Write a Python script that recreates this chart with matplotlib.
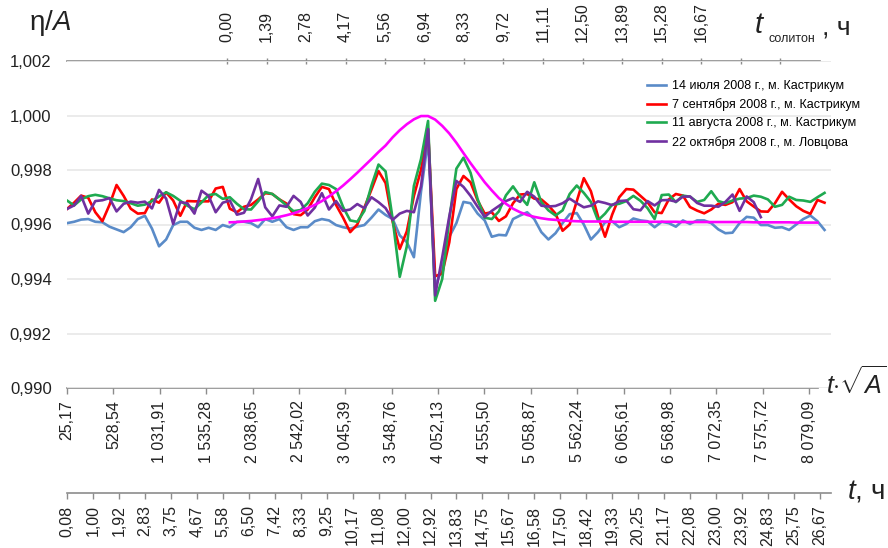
import numpy as np
import matplotlib
matplotlib.use("Agg")
import matplotlib.pyplot as plt

plt.rcParams['font.family'] = ['Liberation Sans', 'DejaVu Sans']
plt.rcParams['mathtext.fontset'] = 'custom'
plt.rcParams['mathtext.rm'] = 'Liberation Sans'
plt.rcParams['mathtext.it'] = 'Liberation Sans:italic'

# ── DATA ──────────────────────────────────────────────────────────────────────
# samples every 15 min starting at t = 0.08 h
T0, DT = 0.08, 0.25

jul14 = [0.99605, 0.9961, 0.99618, 0.9962, 0.9961, 0.99608, 0.99592, 0.99582, 0.99572, 0.9959,
         0.9962, 0.99632, 0.99585, 0.9952, 0.99545, 0.99598, 0.9961, 0.9961, 0.99588, 0.9958,
         0.99588, 0.9958, 0.99598, 0.9959, 0.9961, 0.9961, 0.99605, 0.9959, 0.9962, 0.9961,
         0.9962, 0.9959, 0.9958, 0.9959, 0.9959, 0.99612, 0.9962, 0.99615, 0.99598, 0.9959,
         0.99585, 0.99592, 0.99598, 0.99625, 0.99655, 0.99635, 0.9962, 0.9956, 0.99535, 0.9948,
         0.9972, 0.9991, 0.9937, 0.9944, 0.99555, 0.99605, 0.99683, 0.99678, 0.9964, 0.99615,
         0.99555, 0.99562, 0.9956, 0.9962, 0.99633, 0.99645, 0.9962, 0.99572, 0.99545, 0.99568,
         0.99605, 0.99638, 0.99642, 0.996, 0.99545, 0.99572, 0.99608, 0.99612, 0.9959, 0.99602,
         0.99622, 0.99615, 0.99612, 0.9959, 0.9961, 0.99605, 0.99592, 0.99615, 0.99602, 0.99615,
         0.99615, 0.99605, 0.99582, 0.99568, 0.9957, 0.99605, 0.99628, 0.99625, 0.99598, 0.99598,
         0.99588, 0.9959, 0.9958, 0.996, 0.9962, 0.99633, 0.99612, 0.9958]

sep07 = [0.99657, 0.9968, 0.99706, 0.99698, 0.99645, 0.99612, 0.99672, 0.99745, 0.99705, 0.99658,
         0.9964, 0.99642, 0.99692, 0.9968, 0.99718, 0.99688, 0.99632, 0.99686, 0.99685, 0.99685,
         0.99685, 0.99732, 0.99738, 0.99658, 0.99645, 0.99665, 0.99672, 0.99692, 0.99715, 0.99712,
         0.99692, 0.99677, 0.99638, 0.99634, 0.99655, 0.997, 0.99738, 0.9973, 0.99672, 0.99625,
         0.99572, 0.996, 0.99662, 0.99728, 0.99796, 0.99752, 0.9961, 0.9951, 0.99575, 0.99705,
         0.998, 0.9995, 0.9941, 0.9942, 0.99535, 0.9973, 0.99778, 0.99755, 0.99688, 0.9964,
         0.99645, 0.99613, 0.9963, 0.99678, 0.9971, 0.99712, 0.99695, 0.99692, 0.9967, 0.9964,
         0.99577, 0.996, 0.99685, 0.9977, 0.99722, 0.9963, 0.99555, 0.99636, 0.997, 0.9973,
         0.99728, 0.99705, 0.99682, 0.99645, 0.99642, 0.99692, 0.99712, 0.99706, 0.99664, 0.99651,
         0.99641, 0.99655, 0.99676, 0.99672, 0.99682, 0.9973, 0.99685, 0.99666, 0.99648, 0.99647,
         0.99678, 0.9972, 0.99692, 0.99667, 0.9965, 0.99639, 0.9969, 0.9968]

aug11 = [0.99688, 0.9967, 0.99692, 0.99704, 0.99709, 0.99704, 0.99696, 0.99689, 0.99686, 0.99678,
         0.99669, 0.99673, 0.99686, 0.99703, 0.99718, 0.99705, 0.99687, 0.99669, 0.99656, 0.99681,
         0.99708, 0.99712, 0.99694, 0.997, 0.99676, 0.99656, 0.99655, 0.99685, 0.99719, 0.99712,
         0.99692, 0.9967, 0.99649, 0.99653, 0.99678, 0.9972, 0.9975, 0.99745, 0.9973, 0.99664,
         0.99615, 0.9961, 0.9965, 0.99742, 0.9982, 0.99795, 0.9962, 0.99408, 0.9952, 0.99742,
         0.9984, 0.9998, 0.9932, 0.9940, 0.9962, 0.99805, 0.99845, 0.9979, 0.99693, 0.99625,
         0.9962, 0.99648, 0.99707, 0.9974, 0.99703, 0.99672, 0.99755, 0.99682, 0.99652, 0.99633,
         0.99652, 0.99712, 0.99743, 0.99716, 0.99683, 0.99615, 0.9964, 0.99673, 0.99676, 0.99686,
         0.99705, 0.99687, 0.9966, 0.9962, 0.99708, 0.9971, 0.99682, 0.99706, 0.99702, 0.99683,
         0.9969, 0.99722, 0.99686, 0.99678, 0.99688, 0.99695, 0.99697, 0.99706, 0.99702, 0.99692,
         0.99665, 0.99672, 0.99702, 0.9969, 0.99688, 0.99683, 0.997, 0.99716]

oct22 = [0.99657, 0.9967, 0.99705, 0.9964, 0.99686, 0.99689, 0.99697, 0.99648, 0.99676, 0.99684,
         0.9968, 0.99684, 0.99659, 0.99727, 0.99695, 0.99602, 0.99682, 0.99678, 0.9964, 0.99724,
         0.99705, 0.99645, 0.9968, 0.99688, 0.99636, 0.99643, 0.99693, 0.99767, 0.99663, 0.9963,
         0.9967, 0.99665, 0.99705, 0.99683, 0.99633, 0.99662, 0.99715, 0.99655, 0.99686, 0.9965,
         0.99655, 0.99675, 0.9966, 0.997, 0.99682, 0.9966, 0.99617, 0.9964, 0.9965, 0.99645,
         0.9974, 0.9995, 0.9934, 0.9948, 0.9963, 0.9976, 0.99738, 0.99705, 0.99665, 0.99628,
         0.9965, 0.99668, 0.99686, 0.99697, 0.99683, 0.9972, 0.99702, 0.99669, 0.99666, 0.99668,
         0.99678, 0.99695, 0.99678, 0.99663, 0.99669, 0.99685, 0.99679, 0.99671, 0.99686, 0.99688,
         0.99656, 0.99652, 0.99686, 0.9967, 0.99689, 0.9969, 0.99684, 0.99702, 0.99703, 0.99679,
         0.99669, 0.99669, 0.99665, 0.99683, 0.9971, 0.9965, 0.99703, 0.99682, 0.99627]

# soliton profile, starts at sample 23
SOLITON_START = 23
soliton = [0.99608, 0.99609, 0.99611, 0.99613, 0.99616, 0.99619, 0.99623, 0.99628, 0.99634, 0.99641,
           0.9965, 0.9966, 0.99672, 0.99686, 0.99703, 0.99722, 0.99743, 0.99766, 0.9979, 0.99815,
           0.9984, 0.99866, 0.9989, 0.9992, 0.99946, 0.99968, 0.99986, 0.99998,
           0.99998, 0.99985, 0.99962, 0.99934, 0.999, 0.99862, 0.99825, 0.9979, 0.99755, 0.99725,
           0.99697, 0.99676, 0.99658, 0.99645, 0.99635, 0.99628, 0.99623, 0.99619, 0.99617, 0.99615,
           0.99613, 0.99612,
           0.99611, 0.99611, 0.99611, 0.99611, 0.9961, 0.9961, 0.9961, 0.9961, 0.9961, 0.9961,
           0.9961, 0.9961, 0.9961, 0.9961, 0.99609, 0.99609, 0.99609, 0.99609, 0.99609, 0.99609,
           0.99609, 0.99609, 0.99609, 0.99609, 0.99608, 0.99608, 0.99608, 0.99608, 0.99608, 0.99608,
           0.99607, 0.99607, 0.99607, 0.99607]

series_labels = ["14 июля 2008 г., м. Кастрикум",
                 "7 сентября 2008 г., м. Кастрикум",
                 "11 августа 2008 г., м. Кастрикум",
                 "22 октября 2008 г., м. Ловцова"]
series_colors = ["#5a8bc8", "#ff0000", "#1faa50", "#7030a0"]

y_labels = ["0,990", "0,992", "0,994", "0,996", "0,998", "1,000", "1,002"]
sqrtA_labels = ["25,17", "528,54", "1 031,91", "1 535,28", "2 038,65", "2 542,02",
                "3 045,39", "3 548,76", "4 052,13", "4 555,50", "5 058,87", "5 562,24",
                "6 065,61", "6 568,98", "7 072,35", "7 575,72", "8 079,09"]
t_labels = ["0,08", "1,00", "1,92", "2,83", "3,75", "4,67", "5,58", "6,50", "7,42", "8,33",
            "9,25", "10,17", "11,08", "12,00", "12,92", "13,83", "14,75", "15,67", "16,58",
            "17,50", "18,42", "19,33", "20,25", "21,17", "22,08", "23,00", "23,92", "24,83",
            "25,75", "26,67"]
sol_labels = ["0,00", "1,39", "2,78", "4,17", "5,56", "6,94", "8,33", "9,72", "11,11",
              "12,50", "13,89", "15,28", "16,67", "", ""]
sol_ticks = [0.0, 1.389, 2.778, 4.167, 5.556, 6.944, 8.333, 9.722, 11.111,
             12.5, 13.889, 15.278, 16.667, 18.056, 19.444]


def num(s):
    return float(s.replace(" ", "").replace(",", "."))


# ── LAYOUT ────────────────────────────────────────────────────────────────────
W, H = 888, 548
AX_L, AX_R, AX_T, AX_B = 67, 831, 61, 388
H_PER_PX = 0.035312
XMIN = T0
XMAX = T0 + (AX_R - AX_L) * H_PER_PX

# linear links between the time axis and the two other scales
SQ0, SQ_SLOPE = 25.17, 307.38
SOL_H0, SOL_SLOPE = 5.730, 0.99575

GRID_C = "#e9e9e9"
SPINE_C = "#8c8c8c"
TXT_C = "#222222"

fig = plt.figure(figsize=(W / 100, H / 100), dpi=100)
ax = fig.add_axes([AX_L / W, 1 - AX_B / H, (AX_R - AX_L) / W, (AX_B - AX_T) / H])

for vals, lab, col in zip([jul14, sep07, aug11, oct22], series_labels, series_colors):
    t = T0 + DT * np.arange(len(vals))
    ax.plot(t, vals, color=col, lw=1.9, label=lab, solid_joinstyle="round")

t_sol = T0 + DT * (SOLITON_START + np.arange(len(soliton)))
ax.plot(t_sol, soliton, color="#ff00ff", lw=1.9)

ax.set_xlim(XMIN, XMAX)
ax.set_ylim(0.990, 1.002)
ax.set_yticks([num(s) for s in y_labels])
ax.set_yticklabels(y_labels)
ax.tick_params(axis="y", length=0, pad=11, labelsize=12, labelcolor=TXT_C)
ax.set_xticks([])
ax.yaxis.grid(True, color=GRID_C, lw=1.3)
ax.set_axisbelow(True)
for s in ax.spines.values():
    s.set_visible(False)

# bottom scale: t*sqrt(A)
sec_sq = ax.secondary_xaxis(
    "bottom",
    functions=(lambda h: SQ0 + (h - T0) * SQ_SLOPE, lambda s: T0 + (s - SQ0) / SQ_SLOPE))
sec_sq.set_xticks([num(s) for s in sqrtA_labels])
sec_sq.set_xticklabels(sqrtA_labels, rotation=90)
sec_sq.tick_params(direction="out", length=4, width=1, color=SPINE_C, pad=5,
                   labelsize=11.5, labelcolor=TXT_C)
sec_sq.spines["bottom"].set_color(SPINE_C)
sec_sq.spines["bottom"].set_linewidth(1.2)
sec_sq.spines["bottom"].set_bounds(SQ0, SQ0 + 751 * H_PER_PX * SQ_SLOPE)

# top scale: soliton time
sec_sol = ax.secondary_xaxis(
    "top",
    functions=(lambda h: (h - SOL_H0) * SOL_SLOPE, lambda s: SOL_H0 + s / SOL_SLOPE))
sec_sol.set_xticks(sol_ticks)
sec_sol.set_xticklabels(sol_labels, rotation=90)
sec_sol.tick_params(direction="inout", length=4, width=1, color=SPINE_C, pad=12,
                    labelsize=11.5, labelcolor=TXT_C)
sec_sol.spines["top"].set_color(SPINE_C)
sec_sol.spines["top"].set_linewidth(1.2)
sec_sol.spines["top"].set_bounds((XMIN - SOL_H0) * SOL_SLOPE,
                                 (T0 + 753 * H_PER_PX - SOL_H0) * SOL_SLOPE)

# lower scale: time in hours
sec_t = ax.secondary_xaxis(-(493 - AX_B) / (AX_B - AX_T))
sec_t.set_xticks([num(s) for s in t_labels])
sec_t.set_xticklabels(t_labels, rotation=90)
sec_t.tick_params(direction="out", length=4, width=1, color=SPINE_C, pad=5,
                  labelsize=11.5, labelcolor=TXT_C)
sec_t.spines["bottom"].set_color(SPINE_C)
sec_t.spines["bottom"].set_linewidth(1.2)

# axis captions
fig.text(50 / W, 1 - 23 / H, r"η/$\mathit{A}$", fontsize=20, color=TXT_C,
         ha="center", va="center")
fig.text(856 / W, 1 - 383 / H, r"$t{\cdot}\sqrt{A}$", fontsize=18, color=TXT_C,
         ha="center", va="center")
fig.text(866 / W, 1 - 492 / H, r"$t$, ч", fontsize=20, color=TXT_C,
         ha="center", va="center")
fig.text(760 / W, 1 - 25 / H, r"$t$", fontsize=21, color=TXT_C, ha="center", va="center")
fig.text(792 / W, 1 - 39 / H, "солитон", fontsize=9, color=TXT_C, ha="center", va="center")
fig.text(836 / W, 1 - 28 / H, ", ч", fontsize=19, color=TXT_C, ha="center", va="center")

ax.legend(loc="upper left", bbox_to_anchor=(647 / W, 1 - 80 / H),
          bbox_transform=fig.transFigure, frameon=False, fontsize=9,
          handlelength=1.55, handletextpad=0.45, labelspacing=0.5,
          borderpad=0, borderaxespad=0)

fig.savefig("out.png", dpi=100)
